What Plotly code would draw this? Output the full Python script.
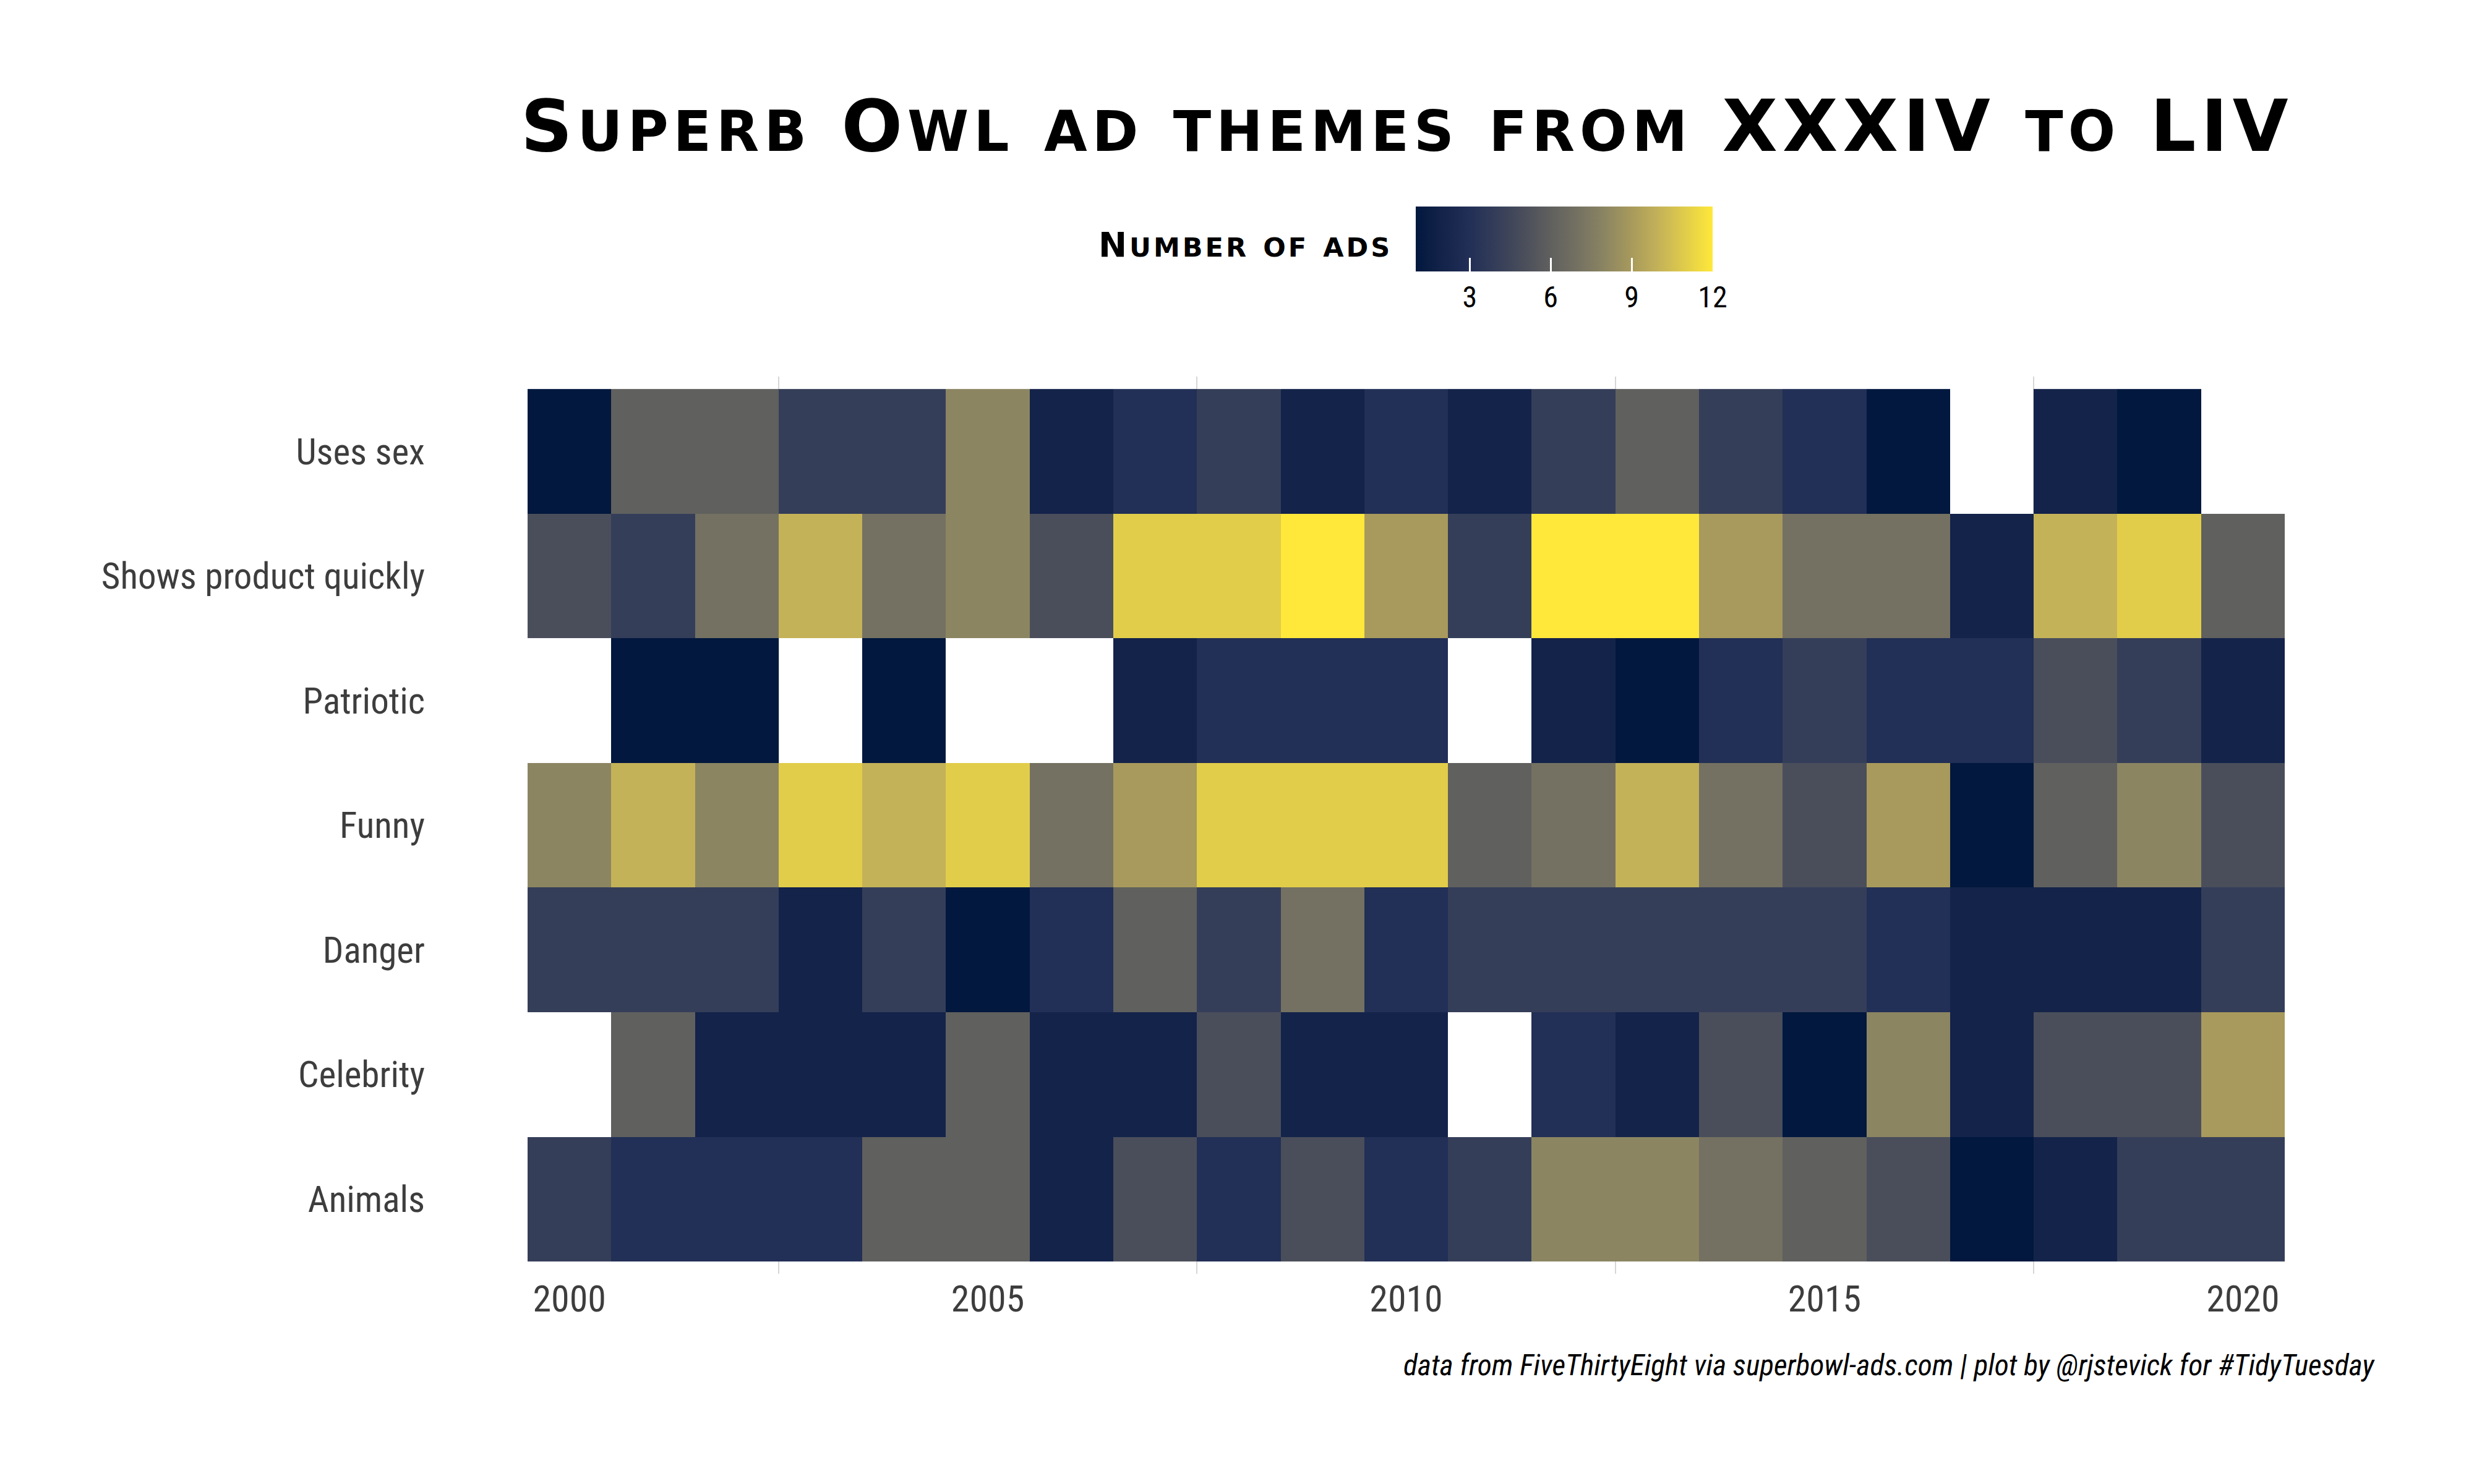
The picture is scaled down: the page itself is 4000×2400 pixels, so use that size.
import plotly.graph_objects as go

years = list(range(2000, 2021))
themes = ["Uses sex", "Shows product quickly", "Patriotic", "Funny", "Danger", "Celebrity", "Animals"]

N = None
uses_sex = [1, 6, 6, 4, 4, 8, 2, 3, 4, 2, 3, 2, 4, 6, 4, 3, 1, N, 2, 1, N]
shows_product = [5, 4, 7, 10, 7, 8, 5, 11, 11, 12, 9, 4, 12, 12, 9, 7, 7, 2, 10, 11, 6]
patriotic = [N, 1, 1, N, 1, N, N, 2, 3, 3, 3, N, 2, 1, 3, 4, 3, 3, 5, 4, 2]
funny = [8, 10, 8, 11, 10, 11, 7, 9, 11, 11, 11, 6, 7, 10, 7, 5, 9, 1, 6, 8, 5]
danger = [4, 4, 4, 2, 4, 1, 3, 6, 4, 7, 3, 4, 4, 4, 4, 4, 3, 2, 2, 2, 4]
celebrity = [N, 6, 2, 2, 2, 6, 2, 2, 5, 2, 2, N, 3, 2, 5, 1, 8, 2, 5, 5, 9]
animals = [4, 3, 3, 3, 6, 6, 2, 5, 3, 5, 3, 4, 8, 8, 7, 6, 5, 1, 2, 4, 4]

z_rows = [uses_sex, shows_product, patriotic, funny, danger, celebrity, animals]

legend_ticks = [3, 6, 9, 12]
title_text = "Superb Owl ad themes from XXXIV to LIV"
legend_title = "Number of ads"
caption = "data from FiveThirtyEight via superbowl-ads.com | plot by @rjstevick for #TidyTuesday"

# cividis-like colours
cividis = [
    [0.0, "#02183E"], [0.0909, "#14234A"], [0.1818, "#222F56"], [0.2727, "#353E59"],
    [0.3636, "#4A4E5B"], [0.4545, "#60605E"], [0.5455, "#747162"], [0.6364, "#8B8562"],
    [0.7273, "#A89A5C"], [0.8182, "#C4B258"], [0.9091, "#E1CD4A"], [1.0, "#FFE83A"],
]

narrow = "Liberation Sans Narrow, Arial Narrow, Roboto Condensed, Liberation Sans, sans-serif"
fancy = "DejaVu Sans"


def small_caps(text, size, spacing, ratio=0.78):
    out = []
    for ch in text:
        if ch.islower():
            out.append('<span style="font-size:%dpx;letter-spacing:%dpx">%s</span>'
                       % (round(size * ratio), spacing, ch.upper()))
        else:
            out.append('<span style="letter-spacing:%dpx">%s</span>' % (spacing, ch))
    return "".join(out)


L, R, T, B = 845, 314, 601, 348
PW = 4000 - L - R
PH = 2400 - T - B


def px_x(x):
    return (x - L) / PW


def px_y(y):
    return (2400 - B - y) / PH


fig = go.Figure(go.Heatmap(
    x=years, y=themes, z=z_rows, zmin=1, zmax=12, colorscale=cividis,
    hoverongaps=False,
    colorbar=dict(
        orientation="h", x=px_x(2521), xanchor="center", y=px_y(316), yanchor="top",
        xref="paper", yref="paper",
        lenmode="pixels", len=500, thickness=105, outlinewidth=0,
        tickvals=legend_ticks, ticks="inside", tickcolor="white", ticklen=22, tickwidth=3,
        tickfont=dict(family=narrow, size=48, color="black"),
    ),
))

fig.update_layout(
    width=4000, height=2400,
    paper_bgcolor="white", plot_bgcolor="white",
    margin=dict(l=L, r=R, t=T, b=B),
    xaxis=dict(range=[1999.5, 2020.5], tickvals=[2000, 2005, 2010, 2015, 2020],
               showgrid=False, zeroline=False, showline=False, ticks="",
               ticklabelstandoff=0,
               tickfont=dict(family=narrow, size=60, color="#3d3d3d"),
               minor=dict(tick0=2002.5, dtick=5, showgrid=True, gridcolor="#d6d6d6", gridwidth=2, ticks="")),
    yaxis=dict(categoryorder="array", categoryarray=list(reversed(themes)),
               range=[-0.6, 6.6], showgrid=False, zeroline=False, showline=False, ticks="",
               ticklabelstandoff=165,
               tickfont=dict(family=narrow, size=59, color="#3d3d3d")),
)

fig.add_annotation(text=small_caps(title_text, 116, 8), xref="paper", yref="paper",
                   x=px_x(2266), y=px_y(195), xanchor="center", yanchor="middle",
                   showarrow=False,
                   font=dict(family=fancy, size=116, color="black", weight="bold"))

fig.add_annotation(text=small_caps(legend_title, 55, 4), xref="paper", yref="paper",
                   x=px_x(2245), y=px_y(388), xanchor="right", yanchor="middle",
                   showarrow=False,
                   font=dict(family=fancy, size=55, color="black", weight="bold"))

fig.add_annotation(text=caption, xref="paper", yref="paper",
                   x=px_x(3834), y=px_y(2200), xanchor="right", yanchor="middle",
                   showarrow=False,
                   font=dict(family=narrow, size=47.5, color="black", style="italic"))

fig.write_html("out.html")
